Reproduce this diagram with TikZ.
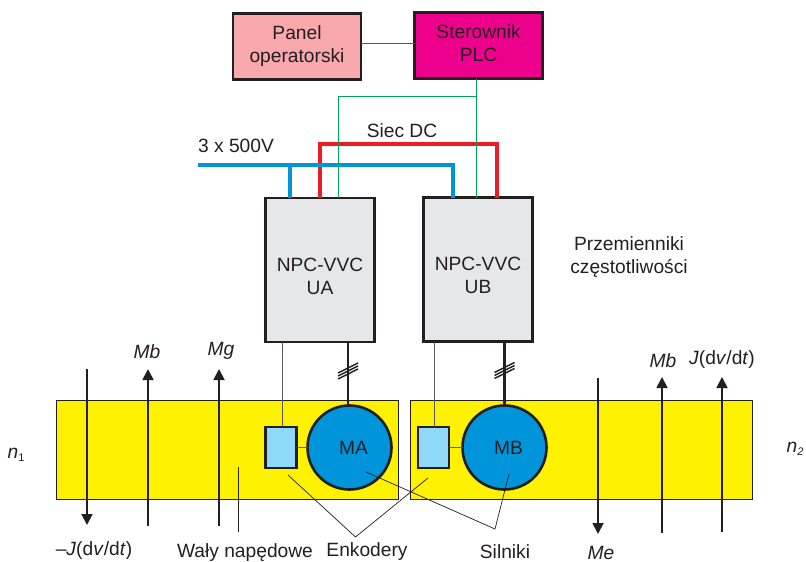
\documentclass[tikz,border=0pt]{standalone}
\usepackage{xcolor}
\usepackage{fontspec}
\setmainfont{Liberation Sans}
\usetikzlibrary{positioning,arrows.meta}
\definecolor{inkdark}{HTML}{231F20}
\definecolor{panelpink}{HTML}{F9A8AB}
\definecolor{plcmagenta}{HTML}{EC008C}
\definecolor{boxgray}{HTML}{E6E7E8}
\definecolor{shaftyellow}{HTML}{FFF200}
\definecolor{motorblue}{HTML}{0095DA}
\definecolor{encblue}{HTML}{8ED8F8}
\definecolor{dcred}{HTML}{ED1C24}
\definecolor{sigreen}{HTML}{00A651}

\begin{document}
\begin{tikzpicture}[x=1pt, y=-1pt, font=\fontsize{19.2}{22}\selectfont, text=inkdark,
		ctrl/.style={draw=inkdark, line width=2.6pt, minimum width=128pt, minimum height=66pt, align=center, outer sep=0pt, inner sep=0pt},
		conv/.style={draw=inkdark, line width=2.6pt, fill=boxgray, minimum width=109pt, minimum height=144pt, outer sep=0pt, inner sep=0pt},
		shaft/.style={draw=inkdark, line width=0.9pt, fill=shaftyellow, minimum width=342pt, minimum height=99pt, outer sep=0pt},
		motor/.style={circle, draw=inkdark, line width=2.6pt, fill=motorblue, minimum size=84pt, inner sep=0pt, outer sep=0pt},
		enc/.style={draw=inkdark, line width=2.4pt, fill=encblue, minimum width=31pt, minimum height=41pt, inner sep=0pt, outer sep=0pt},
		lbl/.style={inner sep=0pt, outer sep=0pt},
		thin wire/.style={draw=inkdark!75, line width=0.9pt},
		leader/.style={draw=inkdark, line width=0.7pt},
		sig/.style={draw=sigreen, line width=0.8pt},
		ac/.style={draw=motorblue, line width=3.6pt},
		dc/.style={draw=dcred, line width=3.6pt},
		cable/.style={draw=inkdark, line width=2.6pt},
		moment/.style={draw=inkdark, line width=1.8pt, -{Triangle[length=11pt,width=11pt]}}]
		\useasboundingbox (0,0) rectangle (806,562);
		% shafts
		\node[shaft] (shaftA) at (227,449.5) {};
		\node[shaft, right=12pt of shaftA] (shaftB) {};
		% control
		\node[ctrl, fill=panelpink] (panel) at (297,46.5) {Panel\\[1pt]operatorski};
		\node[ctrl, fill=plcmagenta, right=53.6pt of panel, yshift=1pt] (plc) {Sterownik\\[1pt]PLC\vphantom{p}};
		\draw[thin wire] ([yshift=3pt]panel.east) -- ([yshift=3pt]panel.east -| plc.west);
		% converters
		\node[conv] (ua) at (320,270) {};
		\node[conv, right=49pt of ua, yshift=0.5pt] (ub) {};
		\node[lbl, align=center, yshift=-6pt] (ua label) at (ua) {NPC-VVC\\[1pt]UA};
		\node[lbl, align=center, yshift=-5.5pt] (ub label) at (ub) {NPC-VVC\\[1pt]UB};
		\node[lbl, align=center] (conv label) at (629,257) {Przemienniki\\[1pt]częstotliwości};
		% supply
		\coordinate (acin) at (198,165);
		\coordinate (acend) at (453,165);
		\coordinate (actap) at (290,165);
		\coordinate (dcleft) at (320,144);
		\coordinate (dcright) at (497,144);
		\coordinate (sigleft) at (338,96);
		\coordinate (sigright) at (476,96);
		\draw[dc] (dcleft |- ua.north) -- (dcleft) -- (dcright) -- (dcright |- ub.north);
		\draw[ac] (acin) -- (acend) -- (acend |- ub.north);
		\draw[ac] (actap) -- (actap |- ua.north);
		\draw[sig] (sigright |- plc.south) -- (sigright |- ub.north);
		\draw[sig] (sigright) -- (sigleft) -- (sigleft |- ua.north);
		\node[lbl] (dc label) at (402,131) {Siec DC};
		\node[lbl] (ac label) at (236,146) {3 x 500V};
		% motors
		\node[motor] (ma) at (349.5,447.5) {\hspace{8pt}MA};
		\node[motor] (mb) at (504.5,447.5) {\hspace{8pt}MB};
		\node[enc, left=11pt of ma] (enca) {};
		\node[enc, left=13.5pt of mb] (encb) {};
		\draw[thin wire] (enca) -- (ma);
		\draw[thin wire] (encb) -- (mb);
		\draw[thin wire] (enca.north |- ua.south) ++(1,0) coordinate (wa) -- (wa |- enca.north);
		\draw[thin wire] (encb.north |- ub.south) ++(1,0) coordinate (wb) -- (wb |- encb.north);
		\draw[cable] (ma.north |- ua.south) ++(-1.5,0) coordinate (ca) -- (ca |- ma.north);
		\draw[cable] (mb.north |- ub.south) coordinate (cb) -- (mb.north);
		% three phase marks
		\foreach \m in {ca,cb} {
			\foreach \d in {26,29,32} {
				\draw[inkdark, line width=1.5pt] ([shift={(-10,\d+5)}]\m) -- ([shift={(10,\d-5)}]\m);
			}
		}
		% moments
		\coordinate (tailA) at (87,369);
		\coordinate (tipA) at (87,525);
		\coordinate (tailB) at (148,526);
		\coordinate (tipB) at (148,369);
		\coordinate (tailC) at (219,526);
		\coordinate (tipC) at (219,369);
		\coordinate (tailD) at (598,378);
		\coordinate (tipD) at (598,534);
		\coordinate (tailE) at (662,533);
		\coordinate (tipE) at (662,377);
		\coordinate (tailF) at (722,532);
		\coordinate (tipF) at (722,377);
		\draw[moment] (tailA) -- (tipA);
		\draw[moment] (tailB) -- (tipB);
		\draw[moment] (tailC) -- (tipC);
		\draw[moment] (tailD) -- (tipD);
		\draw[moment] (tailE) -- (tipE);
		\draw[moment] (tailF) -- (tipF);
		\node[lbl, above=10pt of tipB, xshift=-1pt] (mb left) {\itshape Mb};
		\node[lbl, above=10pt of tipC, xshift=2pt] (mg) {\itshape Mg};
		\node[lbl, below=12pt of tipD, xshift=3pt] (me) {\itshape Me};
		\node[lbl, above=9pt of tipE, xshift=1pt] (mb right) {\itshape Mb};
		\node[lbl, above=9pt of tipF] (jplus) {\textit{J}(d\textit{v}/d\textit{t})};
		\node[lbl] (jminus) at (94,551) {–\textit{J}(d\textit{v}/d\textit{t})};
		\node[lbl] (n1) at (16,455) {\textit{n}\raisebox{-3pt}{\fontsize{11}{11}\selectfont 1}};
		\node[lbl] (n2) at (795,449) {\textit{n}\raisebox{-3pt}{\fontsize{11}{11}\selectfont\itshape 2}};
		% labels with leaders
		\node[lbl] (waly) at (245,553) {Wały napędowe};
		\node[lbl] (enkodery) at (367,552) {Enkodery};
		\node[lbl] (silniki) at (505,552) {Silniki};
		\coordinate (walytop) at (238,467);
		\coordinate (walyend) at (238,532);
		\coordinate (enkapex) at (355.5,537);
		\coordinate (enkA) at (288,475);
		\coordinate (enkB) at (428,478);
		\coordinate (silapex) at (495,529);
		\coordinate (silA) at (366,472);
		\coordinate (silB) at (509,474);
		\draw[leader] (walytop) -- (walyend);
		\draw[leader] (enkA) -- (enkapex) -- (enkB);
		\draw[leader] (silA) -- (silapex) -- (silB);
	\end{tikzpicture}
\end{document}
